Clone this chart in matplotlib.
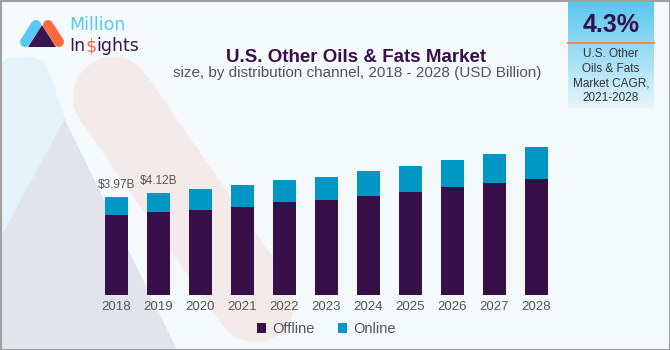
import numpy as np
import matplotlib
matplotlib.use('Agg')
import matplotlib.pyplot as plt
from matplotlib.patches import Polygon, Rectangle
from matplotlib.lines import Line2D

plt.rcParams['font.family'] = ['Liberation Sans', 'DejaVu Sans']

# data
years = ['2018', '2019', '2020', '2021', '2022', '2023', '2024', '2025', '2026', '2027', '2028']
offline = [3.24, 3.35, 3.44, 3.56, 3.74, 3.83, 4.00, 4.17, 4.34, 4.50, 4.69]
online = [0.73, 0.77, 0.85, 0.86, 0.90, 0.94, 0.99, 1.03, 1.12, 1.17, 1.27]
labelled = {0: '$3.97B', 1: '$4.12B'}
cagr = '4.3%'
cagr_text = 'U.S. Other\nOils & Fats\nMarket CAGR,\n2021-2028'

W, H = 670, 350
PURPLE = '#37104a'
BLUE = '#0097c4'
GREY_TXT = '#555555'
BG = '#f4f9fc'

fig = plt.figure(figsize=(W / 100, H / 100), dpi=100)
fig.patch.set_facecolor(BG)

# background layer in pixel coordinates (y down)
bg = fig.add_axes([0, 0, 1, 1])
bg.set_xlim(0, W)
bg.set_ylim(H, 0)
bg.axis('off')
bg.set_zorder(0)

def px(v):
    return v * 72 / 100

# faded logo shapes in the background
bg.add_patch(Polygon([[0, 64], [8, 58], [34, 57], [44, 62], [49, 71], [105, 240], [0, 270]],
                     closed=True, color='#e4f2fa', lw=0))
bg.add_line(Line2D([113, 255], [97, 302], lw=px(80), color='#f5eaea', solid_capstyle='round'))
bg.add_patch(Polygon([[65, 118], [-60, 350], [178, 350]], closed=True, color='#e2e4eb', lw=0))
# white stripe between grey triangle and pink stroke
bg.add_line(Line2D([68, 182], [118, 352], lw=px(7), color=BG, solid_capstyle='butt'))

# logo
bg.add_line(Line2D([25, 36], [42, 25], lw=px(10), color='#5ac8f2', solid_capstyle='round'))
bg.add_line(Line2D([48, 59], [25, 42], lw=px(10), color='#fb6a3c', solid_capstyle='round'))
bg.add_patch(Polygon([[28, 47], [56, 47], [42, 25]], closed=True, color='#3a1650', lw=0))
logo_font = dict(fontsize=12.5, family='DejaVu Sans', ha='left', va='baseline')
bg.text(69, 30.5, 'Million', color='#5ac8f2', **logo_font)
fig.canvas.draw()
r = fig.canvas.get_renderer()
xpos = 69
for part, col in [('In', '#3a1650'), ('$', '#fb6a3c'), ('ights', '#3a1650')]:
    t = bg.text(xpos, 51, part, color=col, **logo_font)
    xpos += t.get_window_extent(r).width

# CAGR box with gradient
grad = np.linspace(0, 1, 200).reshape(-1, 1)
top = np.array([0x55, 0xc6, 0xef]) / 255
bot = np.array([0xe6, 0xf5, 0xfc]) / 255
img = top + (bot - top) * grad[:, :, None]
bg.imshow(img, extent=[568, 654, 108, 0], aspect='auto', zorder=2)
bg.add_line(Line2D([568, 654], [43, 43], lw=px(2), color='#f08a5d', zorder=3))
bg.text(611, 25, cagr, fontsize=18, fontweight='bold', color='#37104a',
        ha='center', va='center', zorder=4)
bg.text(611, 76, cagr_text, fontsize=8.5, color='#333333', ha='center', va='center',
        linespacing=1.3, zorder=4)

# titles
bg.text(356, 57, 'U.S. Other Oils & Fats Market', fontsize=13.5, fontweight='bold',
        color='#37104a', ha='center', va='center')
bg.text(357, 73, 'size, by distribution channel, 2018 - 2028 (USD Billion)', fontsize=11,
        color=GREY_TXT, ha='center', va='center')

# border
bg.add_patch(Rectangle((0.5, 0.5), W - 1, H - 1, fill=False, ec='#a0a0a0', lw=1.5, zorder=5))

# chart
ax = fig.add_axes([95.3 / W, 55 / H, 462 / W, 173.6 / H])
ax.set_zorder(1)
ax.patch.set_alpha(0)
x = np.arange(len(years))
ax.bar(x, offline, width=0.54, color=PURPLE, label='Offline')
ax.bar(x, online, width=0.54, bottom=offline, color=BLUE, label='Online')
for i, t in labelled.items():
    ax.text(x[i], offline[i] + online[i] + 0.22, t, fontsize=8.5, color=GREY_TXT,
            ha='center', va='bottom')
ax.set_xlim(-0.5, len(years) - 0.5)
ax.set_ylim(0, 7)
ax.set_xticks(x)
ax.set_xticklabels(years, fontsize=9.5, color=GREY_TXT)
ax.tick_params(axis='x', length=0, pad=4)
ax.set_yticks([])
for s in ax.spines.values():
    s.set_visible(False)

leg = fig.legend(loc='center', bbox_to_anchor=(326 / W, 1 - 329 / H), ncol=2, frameon=False,
                 fontsize=10.5, handlelength=0.65, handleheight=0.65, handletextpad=0.4,
                 columnspacing=1.6)
for t in leg.get_texts():
    t.set_color(GREY_TXT)

fig.savefig('out.png', dpi=100, facecolor=fig.get_facecolor())
